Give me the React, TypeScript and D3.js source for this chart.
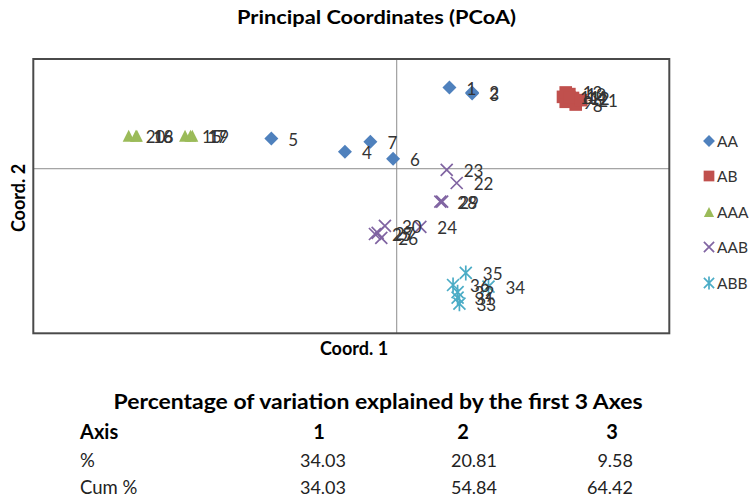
import React from 'react';
import * as d3 from 'd3';

const width = 753;
const height = 499;

// series: point ids, Coord. 1, Coord. 2
const groups = ['AA', 'AB', 'AAA', 'AAB', 'ABB'];
const colors = ['#4F81BD', '#C0504D', '#9BBB59', '#8064A2', '#4BACC6'];

const aaIds = [1, 2, 3, 4, 5, 6, 7];
const aaX = [0.058, 0.083, 0.083, -0.057, -0.138, -0.004, -0.029];
const aaY = [0.148, 0.139, 0.137, 0.031, 0.055, 0.018, 0.049];

const abIds = [8, 9, 10, 11, 12, 13, 14, 21];
const abX = [0.197, 0.186, 0.19, 0.183, 0.194, 0.186, 0.19, 0.203];
const abY = [0.117, 0.122, 0.136, 0.131, 0.129, 0.139, 0.13, 0.125];

const aaaIds = [20, 16, 18, 15, 17, 19];
const aaaX = [-0.295, -0.287, -0.286, -0.233, -0.227, -0.225];
const aaaY = [0.06, 0.06, 0.06, 0.06, 0.06, 0.06];

const aabIds = [22, 23, 24, 25, 26, 27, 28, 29, 30];
const aabX = [0.066, 0.055, 0.026, -0.024, -0.017, -0.021, 0.048, 0.05, -0.013];
const aabY = [-0.026, -0.002, -0.106, -0.119, -0.126, -0.117, -0.06, -0.06, -0.104];

const abbIds = [31, 32, 33, 34, 35, 36];
const abbX = [0.067, 0.067, 0.069, 0.101, 0.076, 0.062];
const abbY = [-0.235, -0.225, -0.246, -0.215, -0.19, -0.212];

const axisLabels = ['1', '2', '3'];
const pctValues = ['34.03', '20.81', '9.58'];
const cumValues = ['34.03', '54.84', '64.42'];

const seriesIds = [aaIds, abIds, aaaIds, aabIds, abbIds];
const seriesX = [aaX, abX, aaaX, aabX, abbX];
const seriesY = [aaY, abY, aaaY, aabY, abbY];

const box = { left: 33.3, right: 669.3, top: 59, bottom: 333.3 };
const font = 'Lato, "Open Sans", sans-serif';

const x = d3.scaleLinear().domain([-0.4, 0.3]).range([box.left, box.right]);
const y = d3.scaleLinear().domain([-0.3, 0.2]).range([box.bottom, box.top]);

function Marker({ kind, cx, cy, color, size = 1 }: { kind: number; cx: number; cy: number; color: string; size?: number }) {
  if (kind === 0) {
    const r = 7 * size;
    return <path d={`M${cx},${cy - r}L${cx + r},${cy}L${cx},${cy + r}L${cx - r},${cy}Z`} fill={color} />;
  }
  if (kind === 1) {
    const s = 6.3 * size;
    return <rect x={cx - s} y={cy - s} width={s * 2} height={s * 2} fill={color} />;
  }
  if (kind === 2) {
    const w = 6 * size;
    return <path d={`M${cx},${cy - w}L${cx + w},${cy + w}L${cx - w},${cy + w}Z`} fill={color} />;
  }
  const h = 6 * size;
  const path = d3.path();
  path.moveTo(cx - h, cy - h);
  path.lineTo(cx + h, cy + h);
  path.moveTo(cx - h, cy + h);
  path.lineTo(cx + h, cy - h);
  if (kind === 4) {
    path.moveTo(cx, cy - h - 1.5);
    path.lineTo(cx, cy + h + 1.5);
  }
  return <path d={path.toString()} stroke={color} strokeWidth={1.7} fill="none" />;
}

export default function App() {
  const legendY = [141, 176, 212, 247, 283];
  const colX = [346, 497, 633];
  const headX = [319, 463, 612];

  return (
    <svg width={width} height={height} style={{ position: 'absolute', left: 0, top: 0, background: '#fff' }}>
      <text
        x={376.5}
        y={24}
        textAnchor="middle"
        fontFamily={font}
        fontWeight="bold"
        fontSize={18}
        textLength={279}
        lengthAdjust="spacingAndGlyphs"
        fill="#000"
      >
        Principal Coordinates (PCoA)
      </text>

      {/* zero axes */}
      <line x1={x(0)} x2={x(0)} y1={box.top} y2={box.bottom} stroke="#8c8c8c" strokeWidth={1} />
      <line x1={box.left} x2={box.right} y1={y(0)} y2={y(0)} stroke="#8c8c8c" strokeWidth={1} />

      {seriesIds.map((ids, si) =>
        ids.map((id, i) => (
          <Marker key={`m${si}-${id}`} kind={si} cx={x(seriesX[si][i])} cy={y(seriesY[si][i])} color={colors[si]} />
        ))
      )}
      {seriesIds.map((ids, si) =>
        ids.map((id, i) => (
          <text
            key={`l${si}-${id}`}
            x={x(seriesX[si][i]) + 17}
            y={y(seriesY[si][i]) + 7}
            fontFamily={font}
            fontSize={17}
            fill="#333"
          >
            {id}
          </text>
        ))
      )}

      <rect
        x={box.left}
        y={box.top}
        width={box.right - box.left}
        height={box.bottom - box.top}
        fill="none"
        stroke="#4a4a4a"
        strokeWidth={2}
      />

      <text x={354} y={355} textAnchor="middle" fontFamily={font} fontWeight="bold" fontSize={18} fill="#000">
        Coord. 1
      </text>
      <text
        transform={`translate(25,198) rotate(-90)`}
        textAnchor="middle"
        fontFamily={font}
        fontWeight="bold"
        fontSize={18}
        fill="#000"
      >
        Coord. 2
      </text>

      {groups.map((g, i) => (
        <g key={g}>
          <Marker kind={i} cx={709} cy={legendY[i]} color={colors[i]} size={0.85} />
          <text x={717} y={legendY[i] + 5.5} fontFamily={font} fontSize={15.5} fill="#333">
            {g}
          </text>
        </g>
      ))}

      <text
        x={378}
        y={409}
        textAnchor="middle"
        fontFamily={font}
        fontWeight="bold"
        fontSize={21}
        textLength={529}
        lengthAdjust="spacingAndGlyphs"
        fill="#000"
      >
        Percentage of variation explained by the first 3 Axes
      </text>
      <text x={80} y={439} fontFamily={font} fontWeight="bold" fontSize={20} fill="#000">
        Axis
      </text>
      {axisLabels.map((a, i) => (
        <text key={a} x={headX[i]} y={439} textAnchor="middle" fontFamily={font} fontWeight="bold" fontSize={20}>
          {a}
        </text>
      ))}
      <text x={80} y={467} fontFamily={font} fontSize={18.5} fill="#222">
        %
      </text>
      {pctValues.map((v, i) => (
        <text key={`p${i}`} x={colX[i]} y={467} textAnchor="end" fontFamily={font} fontSize={18} fill="#222">
          {v}
        </text>
      ))}
      <text x={80} y={494} fontFamily={font} fontSize={18.5} fill="#222">
        Cum %
      </text>
      {cumValues.map((v, i) => (
        <text key={`c${i}`} x={colX[i]} y={494} textAnchor="end" fontFamily={font} fontSize={18} fill="#222">
          {v}
        </text>
      ))}
    </svg>
  );
}
